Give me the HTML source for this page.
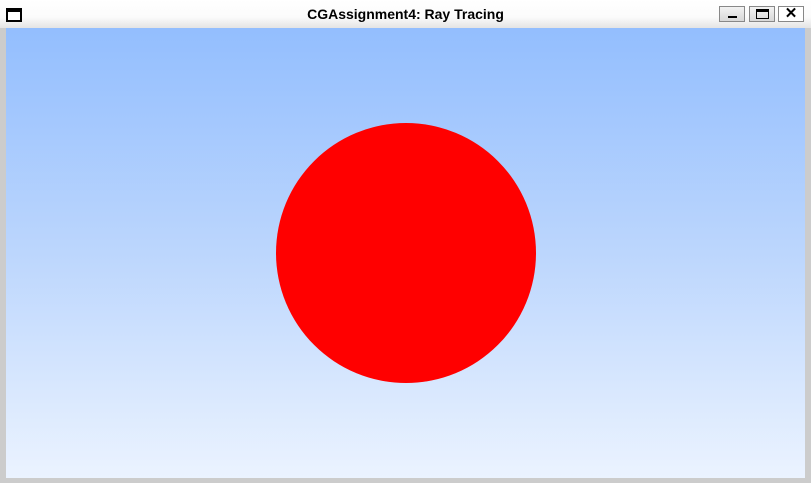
<!DOCTYPE html>
<html><head><meta charset="utf-8"><style>
html,body{margin:0;padding:0;width:811px;height:483px;overflow:hidden;background:#cfcfcf;font-family:"Liberation Sans",sans-serif}
#win{position:absolute;left:0;top:0;width:811px;height:483px;background:#cccccc}
#title{position:absolute;left:0;top:0;width:811px;height:28px;background:linear-gradient(#ffffff 0%,#fbfbfb 60%,#e4e4e4 100%)}
#title .t{position:absolute;left:0;width:811px;top:6px;text-align:center;font-weight:bold;font-size:14px;color:#000}
.btn{position:absolute;top:6px;width:26px;height:16px;border:1px solid #888;background:linear-gradient(#f2f2f2,#d8d8d8);box-sizing:border-box}
#content{position:absolute;left:6px;top:28px;width:799px;height:450px}
</style></head><body>
<div id="win">
 <div id="title">
  <div style="position:absolute;left:6px;top:8px;width:16px;height:14px;border:2px solid #000;border-top-width:4px;box-sizing:border-box;background:#fff"></div>
  <div class="t">CGAssignment4: Ray Tracing</div>
  <div class="btn" style="left:719px"><div style="position:absolute;left:8px;top:9px;width:9px;height:2px;background:#000"></div></div>
  <div class="btn" style="left:749px"><div style="position:absolute;left:6px;top:2px;width:13px;height:10px;border:1.5px solid #000;border-top-width:3px;box-sizing:border-box"></div></div>
  <div class="btn" style="left:778px;background:#fff;font-weight:bold;font-size:15px;line-height:14px;text-align:center">✕</div>
 </div>
 <svg id="content" width="799" height="450">
  <defs>
   <linearGradient id="sky" x1="0" y1="0" x2="0" y2="1">
    <stop offset="0" stop-color="#93befe"/>
    <stop offset="0.5" stop-color="#bcd6fd"/>
    <stop offset="1" stop-color="#ebf3ff"/>
   </linearGradient>
  </defs>
  <rect width="799" height="450" fill="url(#sky)"/>
  <circle cx="400" cy="225" r="130" fill="#ff0000"/>
 </svg>
</div>
</body></html>
